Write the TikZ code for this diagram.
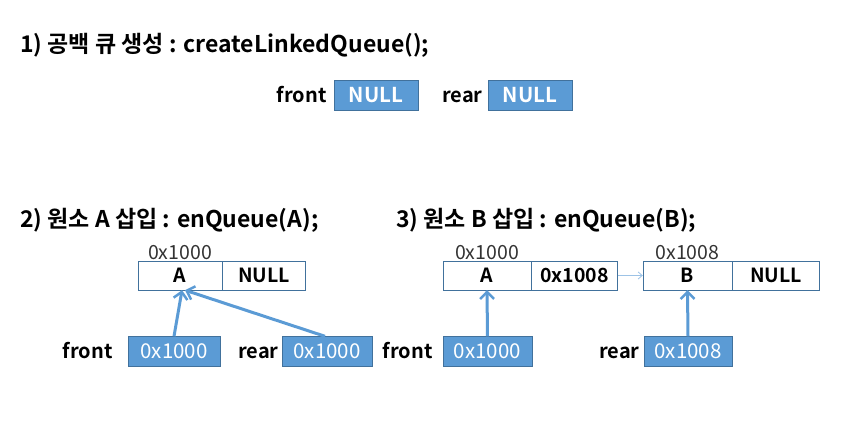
\documentclass[tikz,border=0pt]{standalone}
\usepackage{fontspec}
\setmainfont{Noto Sans CJK KR}[BoldFont={Noto Sans CJK KR Bold}]
\usetikzlibrary{positioning,arrows.meta}

\definecolor{boxblue}{HTML}{5B9BD5}
\definecolor{edgeblue}{HTML}{41719C}
\definecolor{linkblue}{HTML}{9DC3E6}

\tikzset{
    title/.style={anchor=west, inner sep=0pt, font=\fontsize{23}{26}\selectfont\bfseries},
    lbl/.style={inner sep=0pt, font=\fontsize{20}{22}\selectfont\bfseries},
    ptrbox/.style={draw=edgeblue, fill=boxblue, text=white, minimum height=30pt, inner sep=0pt, font=\fontsize{20.5}{22}\selectfont},
    cell/.style={draw=edgeblue, fill=white, minimum height=29pt, inner sep=0pt, font=\fontsize{19.5}{22}\selectfont\bfseries},
    addr/.style={inner sep=1pt, text=black!80, font=\fontsize{19.5}{21}\selectfont},
    ptrarrow/.style={draw=boxblue, line width=3pt, -{Straight Barb[length=7pt,width=14pt,line width=2.5pt]}},
    linkarrow/.style={draw=linkblue, line width=0.8pt, -{Straight Barb[length=4pt,width=7pt]}}
}

\begin{document}
\begin{tikzpicture}[x=1pt,y=-1pt]
        \useasboundingbox (0,0) rectangle (865,425);

        % 1) empty queue
        \node[title] (t1) at (20,45) {1) 공백 큐 생성 : createLinkedQueue();};
        \node[ptrbox, minimum width=84pt] (f1) at (376,95) {\bfseries NULL};
        \node[lbl, base left=7pt of f1] (f1l) {front};
        \node[ptrbox, minimum width=84pt] (r1) at (530,95) {\bfseries NULL};
        \node[lbl, base left=5pt of r1] (r1l) {rear};

        % 2) enqueue A
        \node[title] (t2) at (20,220) {2) 원소 A 삽입 : enQueue(A);};
        \node[cell, minimum width=84pt] (a2) at (180,275.5) {A};
        \node[cell, minimum width=83pt, right=0pt of a2] (a2n) {NULL};
        \node[addr, above=0pt of a2] (a2a) {0x1000};
        \node[ptrbox, minimum width=92pt] (f2) at (174,351.5) {0x1000};
        \node[lbl, base left=15pt of f2] (f2l) {front};
        \node[ptrbox, minimum width=90pt] (r2) at (327,351.5) {0x1000};
        \node[lbl, base left=3pt of r2] (r2l) {rear};
        \draw[ptrarrow] (f2.north) -- ([xshift=2pt]a2.south);
        \draw[ptrarrow] ([xshift=-2pt]r2.north) -- ([xshift=5pt]a2.south);

        % 3) enqueue B
        \node[title] (t3) at (396,220) {3) 원소 B 삽입 : enQueue(B);};
        \node[cell, minimum width=88pt] (a3) at (487,275.5) {A};
        \node[cell, minimum width=86pt, right=0pt of a3] (a3n) {0x1008};
        \node[addr, above=0pt of a3] (a3a) {0x1000};
        \node[cell, minimum width=89pt] (b3) at (687.5,275.5) {B};
        \node[cell, minimum width=87pt, right=0pt of b3] (b3n) {NULL};
        \node[addr, above=0pt of b3] (b3a) {0x1008};
        \draw[linkarrow] (a3n.east) -- (b3.west);
        \node[ptrbox, minimum width=89pt] (f3) at (487.5,351.5) {0x1000};
        \node[lbl, base left=10pt of f3] (f3l) {front};
        \node[ptrbox, minimum width=88pt] (r3) at (688,351.5) {0x1008};
        \node[lbl, base left=4pt of r3] (r3l) {rear};
        \draw[ptrarrow] (f3.north) -- (a3.south);
        \draw[ptrarrow] (r3.north) -- (b3.south);

\end{tikzpicture}
\end{document}
